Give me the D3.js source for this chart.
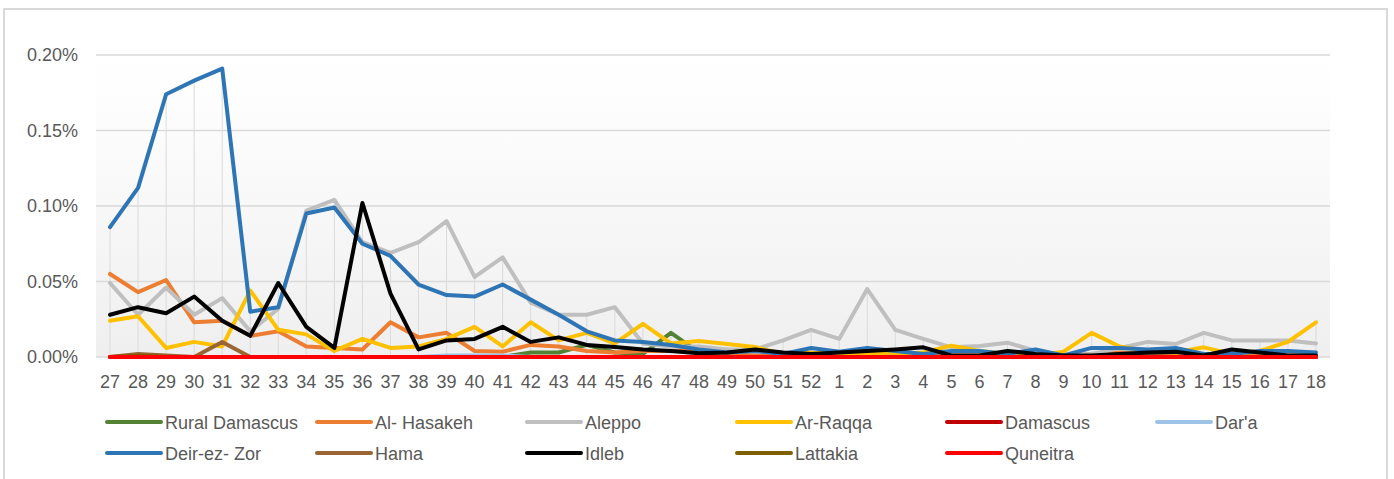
<!DOCTYPE html>
<html><head><meta charset="utf-8">
<script src="https://cdn.jsdelivr.net/npm/d3@7/dist/d3.min.js"></script>
<style>html,body{margin:0;padding:0;background:#fff;}svg{display:block;font-family:"Liberation Sans",Arial,sans-serif;}</style>
</head><body>
<svg id="chart" width="1394" height="479"></svg>
<script>
const categories = ["27","28","29","30","31","32","33","34","35","36","37","38","39","40","41","42","43","44","45","46","47","48","49","50","51","52","1","2","3","4","5","6","7","8","9","10","11","12","13","14","15","16","17","18"];
const yTicks = [0, 0.05, 0.10, 0.15, 0.20];

const seriesNames = ["Rural Damascus","Al- Hasakeh","Aleppo","Ar-Raqqa","Damascus","Dar'a","Deir-ez- Zor","Hama","Idleb","Lattakia","Quneitra"];
const seriesColors = ["#548235","#ed7d31","#bfbfbf","#ffc000","#c00000","#9dc3e6","#2e75b6","#996633","#000000","#7f6000","#ff0000"];

const ruralDamascus = [0,0,0,0,0,0,0,0,0,0,0,0,0,0,0,0.003,0.003,0.008,0.003,0.002,0.016,0.003,0,0,0,0,0,0,0,0,0,0,0,0,0,0,0,0,0,0,0,0,0,0];
const alHasakeh = [0.055,0.043,0.051,0.023,0.024,0.014,0.017,0.007,0.006,0.005,0.023,0.013,0.016,0.004,0.0035,0.008,0.007,0.004,0.003,0.004,0.004,0.005,0.002,0.001,0.001,0.001,0.002,0.001,0.001,0.001,0.001,0.001,0.002,0.001,0.001,0.002,0.003,0.002,0.002,0.001,0.001,0.001,0.001,0.001];
const aleppo = [0.049,0.028,0.046,0.028,0.039,0.017,0.032,0.097,0.104,0.076,0.069,0.076,0.090,0.053,0.066,0.036,0.028,0.028,0.033,0.009,0.007,0.007,0.005,0.005,0.011,0.018,0.012,0.045,0.018,0.012,0.0064,0.0073,0.0095,0.004,0.001,0.002,0.006,0.010,0.0086,0.016,0.011,0.011,0.011,0.009];
const arRaqqa = [0.024,0.027,0.006,0.010,0.007,0.044,0.018,0.015,0.004,0.012,0.006,0.007,0.012,0.020,0.007,0.023,0.011,0.016,0.009,0.022,0.009,0.0106,0.0086,0.0066,0.002,0.003,0.002,0.002,0.002,0.003,0.0075,0.004,0.002,0.001,0.0035,0.016,0.007,0.004,0.003,0.0064,0.002,0.004,0.010,0.023];
const damascus = [0,0,0,0,0,0,0,0,0,0,0,0,0,0,0,0,0,0,0,0,0,0,0,0,0,0,0,0,0,0,0,0,0,0,0,0,0,0,0,0,0,0,0,0];
const dara = [0,0,0,0,0,0,0,0,0,0,0,0,0.001,0.001,0.001,0,0,0,0,0,0,0,0,0,0,0,0,0,0,0,0,0,0,0,0,0,0,0,0,0,0,0,0,0];
const deirEzZor = [0.086,0.112,0.174,0.183,0.191,0.030,0.033,0.095,0.099,0.075,0.067,0.048,0.041,0.040,0.048,0.038,0.028,0.017,0.011,0.010,0.008,0.005,0.003,0.004,0.002,0.006,0.0035,0.006,0.004,0.002,0.004,0.004,0.002,0.005,0.001,0.006,0.006,0.005,0.006,0.002,0.002,0.004,0.004,0.003];
const hama = [0,0.002,0.001,0,0.010,0,0,0,0,0,0,0,0,0,0,0,0,0,0,0,0,0,0,0,0,0,0,0,0,0,0,0,0,0,0,0,0.002,0.001,0,0,0,0,0,0];
const idleb = [0.028,0.033,0.029,0.040,0.024,0.014,0.049,0.020,0.006,0.102,0.042,0.005,0.011,0.012,0.020,0.010,0.013,0.008,0.0066,0.005,0.004,0.0025,0.003,0.005,0.003,0.002,0.003,0.004,0.005,0.0064,0.001,0.001,0.004,0.002,0.001,0.001,0.002,0.003,0.0035,0.001,0.005,0.003,0.001,0.001];
const lattakia = [0,0.001,0,0,0,0,0,0,0,0,0,0,0,0,0,0,0,0,0,0,0,0,0,0,0,0,0,0,0,0,0,0,0,0,0,0,0,0,0,0,0,0,0,0];
const quneitra = [0,0,0,0,0,0,0,0,0,0,0,0,0,0,0,0,0,0,0,0,0,0,0,0,0,0,0,0,0,0,0,0,0,0,0,0,0,0,0,0,0,0,0,0];

const seriesValues = [ruralDamascus, alHasakeh, aleppo, arRaqqa, damascus, dara, deirEzZor, hama, idleb, lattakia, quneitra];
const series = seriesNames.map((n,i)=>({name:n,color:seriesColors[i],values:seriesValues[i]}));

const svg = d3.select("#chart");
const pLeft=96, pRight=1330, pTop=55, pBottom=357;
const x = d3.scalePoint().domain(categories).range([pLeft,pRight]).padding(0.5);
const y = d3.scaleLinear().domain([0,0.20]).range([pBottom,pTop]);

// outer border
svg.append("rect").attr("x",4).attr("y",9).attr("width",1383).attr("height",490)
  .attr("fill","#fff").attr("stroke","#d9d9d9").attr("stroke-width",2);

// gradient background
const defs = svg.append("defs");
const g = defs.append("linearGradient").attr("id","bg").attr("x1",0).attr("y1",0).attr("x2",0).attr("y2",1);
g.append("stop").attr("offset","0%").attr("stop-color","#ffffff");
g.append("stop").attr("offset","25%").attr("stop-color","#fcfcfc");
g.append("stop").attr("offset","100%").attr("stop-color","#efefef");
svg.append("rect").attr("x",pLeft).attr("y",pTop).attr("width",pRight-pLeft).attr("height",pBottom-pTop).attr("fill","url(#bg)");

// gridlines
svg.append("g").selectAll("line").data(yTicks).join("line")
  .attr("x1",pLeft).attr("x2",pRight).attr("y1",d=>y(d)).attr("y2",d=>y(d))
  .attr("stroke","#d9d9d9").attr("stroke-width",1.5);

// drop lines
const maxes = categories.map((c,i)=>d3.max(series,s=>s.values[i]));
svg.append("g").selectAll("line").data(categories).join("line")
  .attr("x1",d=>x(d)).attr("x2",d=>x(d)).attr("y1",(d,i)=>y(maxes[i])).attr("y2",y(0))
  .attr("stroke","#dadada").attr("stroke-width",1);

// y axis labels
svg.append("g").selectAll("text").data(yTicks).join("text")
  .attr("x",78).attr("y",d=>y(d)+6).attr("text-anchor","end")
  .attr("font-size",18).attr("fill","#595959").text(d=>d.toFixed(2)+"%");

// x axis labels
svg.append("g").selectAll("text").data(categories).join("text")
  .attr("x",d=>x(d)).attr("y",388).attr("text-anchor","middle")
  .attr("font-size",18).attr("fill","#595959").text(d=>d);

// lines
const line = d3.line().x((d,i)=>x(categories[i])).y(d=>y(d));
svg.append("g").selectAll("path").data(series).join("path")
  .attr("d",d=>line(d.values)).attr("fill","none").attr("stroke",d=>d.color)
  .attr("stroke-width",4).attr("stroke-linejoin","round").attr("stroke-linecap","round");

// legend
const leg = svg.append("g").selectAll("g").data(series).join("g")
  .attr("transform",(d,i)=>`translate(${107+210*(i%6)},${i<6?422:453})`);
leg.append("line").attr("x1",0).attr("x2",54).attr("y1",0).attr("y2",0)
  .attr("stroke",d=>d.color).attr("stroke-width",4).attr("stroke-linecap","round");
leg.append("text").attr("x",58).attr("y",7).attr("font-size",18).attr("fill","#595959").text(d=>d.name);
</script>
</body></html>
